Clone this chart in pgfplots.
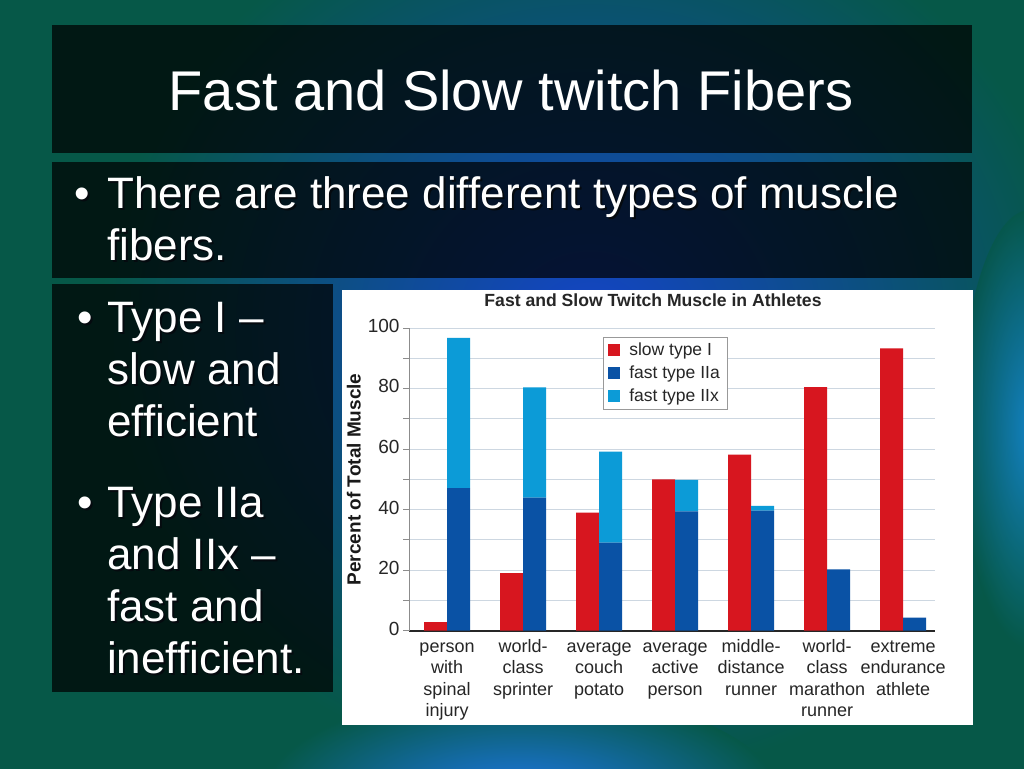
\documentclass[border=0pt]{standalone}
\usepackage{fontspec}
\setmainfont{Liberation Sans}
\usepackage{pgfplots}
\pgfplotsset{compat=1.18}

\definecolor{slowred}{RGB}{215,22,31}
\definecolor{fastIIa}{RGB}{10,82,165}
\definecolor{fastIIx}{RGB}{12,155,215}
\definecolor{gridc}{RGB}{205,215,225}
\definecolor{bgteal}{RGB}{6,88,72}
\definecolor{bgblue}{RGB}{20,68,200}
\definecolor{bgbright}{RGB}{30,120,235}
\definecolor{shadowc}{RGB}{5,10,15}

\pgfplotsset{sqlegend/.style={legend image code/.code={\fill[##1] (0pt,-6pt) rectangle (12pt,6pt); \path (19pt,0pt);}}}

% white text with a dark shadow, in one node
\newcommand{\shtext}[3]{%
  \node[anchor=base west, text=white, inner sep=0pt] at (#1,#2)
    {\makebox[0pt][l]{\hspace*{2pt}\raisebox{-2pt}{\textcolor{shadowc}{#3}}}#3};}
% bullet and its first line in one node; the text starts at x=107
\newcommand{\bultext}[3]{\shtext{#1}{#2}{\makebox[\dimexpr107pt-#1pt\relax][l]{•}#3}}

\begin{document}
\begin{tikzpicture}
\begin{scope}[x=1pt,y=-1pt]
  \useasboundingbox (0,0) rectangle (1024,768);
  % slide background
  \fill[bgteal] (-6,-6) rectangle (1030,774);
  \shade[inner color=bgblue, outer color=bgteal] (590,330) ellipse (490 and 450);
  \shade[inner color=bgbright, outer color=bgteal] (520,800) ellipse (260 and 110);
  \shade[inner color=bgbright!80!cyan, outer color=bgteal, opacity=0.7] (1030,430) ellipse (70 and 220);
  % dark panels
  \fill[black, opacity=0.72] (52,25) rectangle (972,153);
  \fill[black, opacity=0.72] (52,162) rectangle (972,278);
  \fill[black, opacity=0.72] (52,284) rectangle (333,692);
  % title
  \node[anchor=base, text=white, font=\fontsize{56}{67}\selectfont] at (511,110) {Fast and Slow twitch Fibers};
  % bullets
  \begingroup\fontsize{44}{52}\selectfont
  \bultext{74}{208}{There are three different types of muscle}
  \shtext{107}{260}{fibers.}
  \bultext{77}{332}{Type I –}
  \shtext{107}{384}{slow and}
  \shtext{107}{436}{efficient}
  \bultext{77}{517}{Type IIa}
  \shtext{107}{569}{and IIx –}
  \shtext{107}{621}{fast and}
  \shtext{107}{673}{inefficient.}
  \endgroup
  % chart panel
  \fill[white] (342,290) rectangle (973,725);
  \node[anchor=base, text=black!85, font=\bfseries\fontsize{17.6}{21}\selectfont] at (653,306) {Fast and Slow Twitch Muscle in Athletes};
\end{scope}

\begin{axis}[
  at={(409pt,-630.7pt)}, anchor=south west,
  width=526pt, height=302.7pt, scale only axis,
  xmin=-0.5, xmax=6.42, ymin=0, ymax=100,
  axis x line*=bottom, axis y line*=left,
  x axis line style={-, line width=1.6pt, color=black!85},
  y axis line style={-, line width=0.8pt, color=black!45},
  ytick={0,20,...,100}, minor ytick={10,30,...,90},
  ymajorgrids, yminorgrids,
  major grid style={draw=gridc, line width=1pt},
  minor grid style={draw=gridc, line width=1pt},
  tick align=outside, major tick length=6pt, minor tick length=6pt,
  every tick/.style={black!45, line width=0.8pt},
  /pgf/number format/assume math mode=true,
  yticklabel style={font=\fontsize{19}{22}\selectfont, text=black!85},
  xtick={0,...,6},
  xtick style={draw=none},
  xticklabels={{person\\with\\spinal\\injury},{world-\\class\\sprinter},{average\\couch\\potato},{average\\active\\person},{middle-\\distance\\runner},{world-\\class\\marathon\\runner},{extreme\\endurance\\athlete}},
  typeset ticklabels with strut,
  xticklabel style={align=center, font=\fontsize{18}{21.5}\selectfont, text=black!85, yshift=3pt},
  ylabel={Percent of Total Muscle},
  ylabel style={font=\bfseries\fontsize{19}{22}\selectfont, text=black!90},
  legend style={at={(0.369,0.970)}, anchor=north west, draw=black!40, fill=white,
    font=\fontsize{17.5}{20}\selectfont, text=black!85, row sep=4.5pt,
    inner xsep=5pt, inner ysep=4pt},
  legend cell align=left,
]
\addplot[ybar, bar width=23pt, bar shift=-11.5pt, fill=slowred, draw=none, sqlegend]
  coordinates {(0,2.8) (1,19) (2,39) (3,50) (4,58.2) (5,80.5) (6,93.3)};
\addlegendentry{slow type I}
\addlegendimage{fill=fastIIa, draw=none, sqlegend}
\addlegendentry{fast type IIa}
\addlegendimage{fill=fastIIx, draw=none, sqlegend}
\addlegendentry{fast type IIx}
\end{axis}

\begin{axis}[
  at={(409pt,-630.7pt)}, anchor=south west,
  width=526pt, height=302.7pt, scale only axis,
  xmin=-0.5, xmax=6.42, ymin=0, ymax=100,
  hide axis, ybar stacked, bar width=23pt, bar shift=11.5pt,
]
\addplot[fill=fastIIa, draw=none] coordinates {(0,47.1) (1,44) (2,29.1) (3,39.4) (4,39.7) (5,20.3) (6,4.3)};
\addplot[fill=fastIIx, draw=none] coordinates {(0,49.6) (1,36.4) (2,30.1) (3,10.4) (4,1.5) (5,0) (6,0)};
\end{axis}
\end{tikzpicture}
\end{document}
